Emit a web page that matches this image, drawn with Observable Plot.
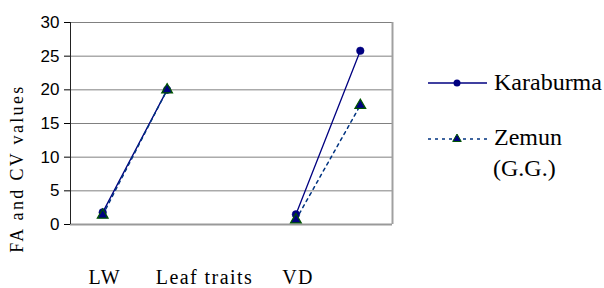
<!DOCTYPE html>
<html>
<head>
<meta charset="utf-8">
<script src="https://cdn.jsdelivr.net/npm/d3@7"></script>
<script src="https://cdn.jsdelivr.net/npm/@observablehq/plot@0.6"></script>
<style>
  html, body { margin: 0; padding: 0; background: #fff; }
  #wrap { position: relative; width: 604px; height: 288px; }
  #wrap svg { position: absolute; left: 0; top: 0; }
</style>
</head>
<body>
<div id="wrap"></div>
<script>
// ---- data ----
const xIndex = [1, 2, 3, 4, 5];
const karaburma = [1.8, 20.0, null, 1.5, 25.8];
const zemun = [1.4, 20.0, null, 0.7, 17.7];
const bottomLabels = ["LW", "Leaf traits", "VD"];
const bottomLabelPos = [1, 2.55, 4];
const yTicks = [0, 5, 10, 15, 20, 25, 30];
const gridValues = [5, 10, 15, 20, 25, 30];
const yLabel = "FA and CV values";
const seriesNames = ["Karaburma", "Zemun\n(G.G.)"];

const kData = xIndex.map((x, i) => ({x, y: karaburma[i]}));
const zData = xIndex.map((x, i) => ({x, y: zemun[i]}));
const labelData = bottomLabels.map((t, i) => ({x: bottomLabelPos[i], t}));

const navy = "#000080";
const zBlue = "#003380";
const zGreen = "#005500";
const serif = "'Liberation Serif', 'Times New Roman', serif";

const chart = Plot.plot({
  width: 604,
  height: 288,
  marginLeft: 70,
  marginRight: 212,
  marginTop: 22,
  marginBottom: 64,
  style: {fontFamily: "'Liberation Sans', Arial, sans-serif", fontSize: "17px", background: "#fff", overflow: "visible"},
  x: {domain: [0.5, 5.5], axis: null},
  y: {domain: [0, 30], axis: null},
  marks: [
    Plot.ruleY(gridValues, {stroke: "#808080", strokeWidth: 1}),
    Plot.ruleY([0], {stroke: "#999", strokeWidth: 2}),
    Plot.ruleX([5.5], {stroke: "#a0a0a0", strokeWidth: 2}),
    Plot.ruleX([0.5], {stroke: "#222", strokeWidth: 1}),
    Plot.axisY({ticks: yTicks, tickSize: 6, tickPadding: 5, fontSize: 17, label: null, tickFormat: d => d}),
    Plot.line(kData, {x: "x", y: "y", stroke: navy, strokeWidth: 1.3}),
    Plot.line(zData, {x: "x", y: "y", stroke: zBlue, strokeWidth: 1.5, strokeDasharray: "3,4"}),
    Plot.dot(kData, {x: "x", y: "y", r: 3.8, fill: navy, stroke: navy, strokeWidth: 0.5}),
    Plot.dot(zData, {x: "x", y: "y", symbol: "triangle", r: 4, fill: navy, stroke: zGreen, strokeWidth: 1.2}),
    Plot.text(labelData, {x: "x", text: "t", frameAnchor: "bottom", dy: 59, dx: 2, lineAnchor: "bottom",
      fontFamily: serif, fontSize: 20, fill: "#000"}),
    Plot.text([yLabel], {frameAnchor: "left", text: d => d, rotate: -90, dx: -53, dy: 45, textAnchor: "middle",
      fontFamily: serif, fontSize: 18, fill: "#000"})
  ]
});

const wrap = document.getElementById("wrap");
wrap.appendChild(chart);

// stretch text horizontally (letter spacing) to match reference widths
function fit(el, target) {
  el.style.letterSpacing = "0px";
  const w = el.getComputedTextLength();
  const n = el.textContent.length;
  if (n > 1 && w < target) el.style.letterSpacing = ((target - w) / (n - 1)).toFixed(2) + "px";
}
const targets = {"LW": 31, "Leaf traits": 96, "VD": 30, [yLabel]: 166};
d3.select(chart).selectAll("text").each(function() {
  const t = this.textContent;
  if (targets[t]) fit(this, targets[t]);
});

// ---- legend ----
const leg = d3.select(wrap).append("svg")
  .attr("width", 176).attr("height", 140)
  .style("left", "428px").style("top", "60px");

leg.append("line").attr("x1", 0).attr("x2", 59).attr("y1", 23).attr("y2", 23)
  .attr("stroke", navy).attr("stroke-width", 1.3);
leg.append("circle").attr("cx", 29).attr("cy", 23).attr("r", 3.5).attr("fill", navy);
const kt = leg.append("text").attr("x", 66).attr("y", 30).text(seriesNames[0])
  .attr("font-family", serif).attr("font-size", 24).attr("fill", "#000");
fit(kt.node(), 107);

leg.append("line").attr("x1", 0).attr("x2", 59).attr("y1", 79).attr("y2", 79)
  .attr("stroke", zBlue).attr("stroke-width", 1.5).attr("stroke-dasharray", "3,4");
leg.append("path").attr("d", d3.symbol(d3.symbolTriangle, 32)())
  .attr("transform", "translate(29,79)").attr("fill", navy).attr("stroke", zGreen).attr("stroke-width", 1);
const zt = leg.append("text").attr("font-family", serif).attr("font-size", 24).attr("fill", "#000");
seriesNames[1].split("\n").forEach((line, i) => {
  zt.append("tspan").attr("x", i === 0 ? 66 : 65).attr("y", 85 + i * 31).text(line);
});
</script>
</body>
</html>
